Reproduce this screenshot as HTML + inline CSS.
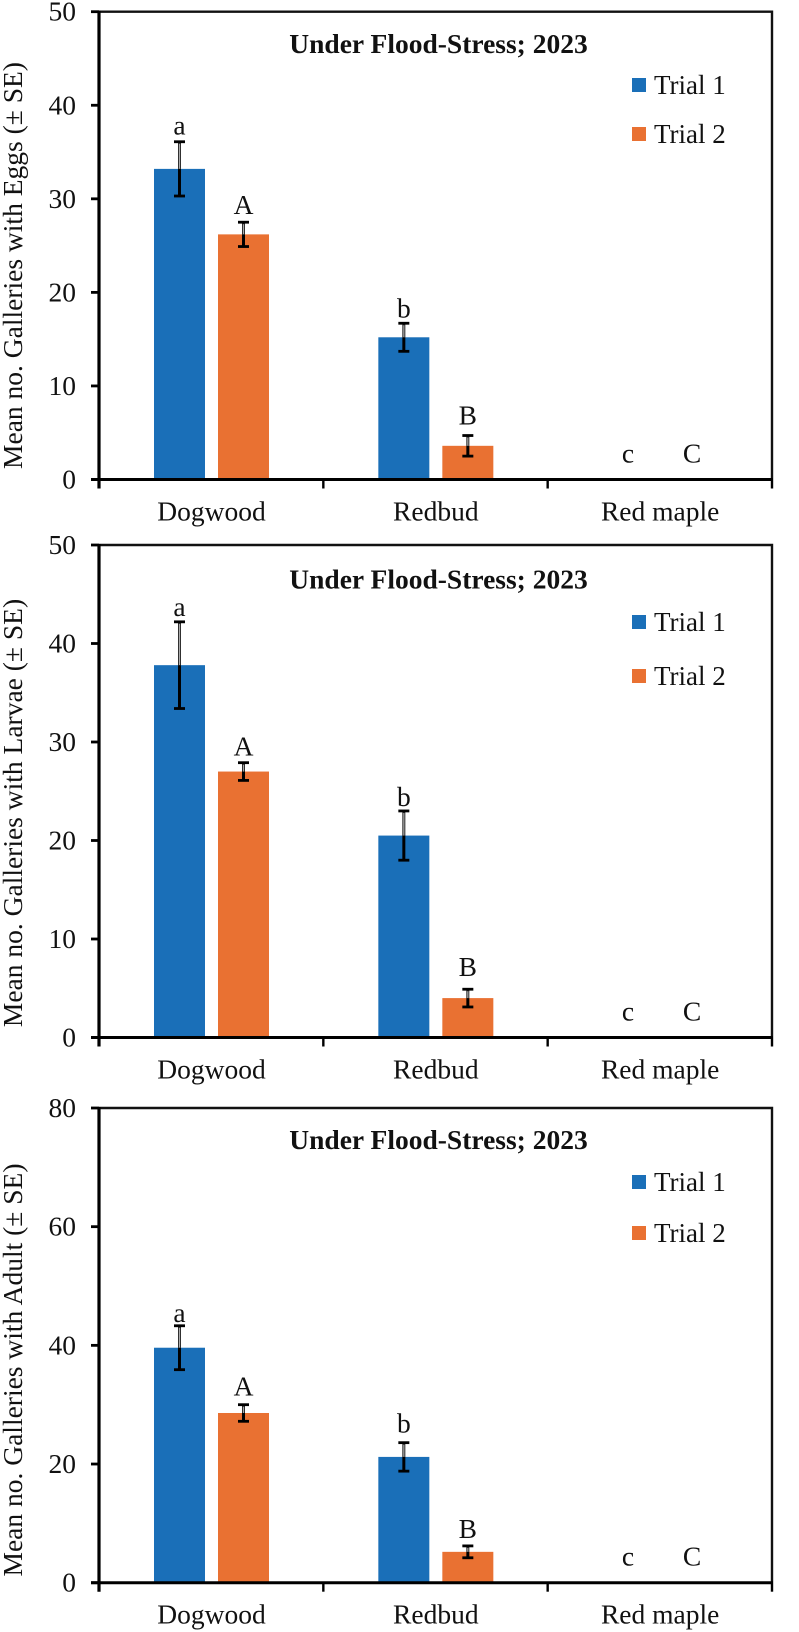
<!DOCTYPE html>
<html lang="en">
<head>
<meta charset="utf-8">
<title>Mean number of galleries under flood stress, 2023</title>
<style>
html,body{margin:0;padding:0;background:#fff;}
svg{display:block;}
text{font-family:"Liberation Serif",serif;fill:#111;}
</style>
</head>
<body>
<svg id="figure" xmlns="http://www.w3.org/2000/svg" width="799" height="1632" viewBox="0 0 799 1632"></svg>
<script>
const categories = ['Dogwood', 'Redbud', 'Red maple'];
const seriesNames = ['Trial 1', 'Trial 2'];
const eggsTrial1 = [33.2, 15.2, 0];
const eggsTrial2 = [26.2, 3.6, 0];
const eggsErrTrial1 = [2.9, 1.5, 0];
const eggsErrTrial2 = [1.3, 1.1, 0];
const larvaeTrial1 = [37.8, 20.5, 0];
const larvaeTrial2 = [27.0, 4.0, 0];
const larvaeErrTrial1 = [4.4, 2.5, 0];
const larvaeErrTrial2 = [0.9, 0.9, 0];
const adultTrial1 = [39.6, 21.2, 0];
const adultTrial2 = [28.6, 5.2, 0];
const adultErrTrial1 = [3.7, 2.4, 0];
const adultErrTrial2 = [1.4, 1.0, 0];
const lettersTrial1 = ['a', 'b', 'c'];
const lettersTrial2 = ['A', 'B', 'C'];
const ticksEggs = [0, 10, 20, 30, 40, 50];
const ticksLarvae = [0, 10, 20, 30, 40, 50];
const ticksAdult = [0, 20, 40, 60, 80];
const chartTitle = 'Under Flood-Stress; 2023';
const yTitles = ['Mean no. Galleries with Eggs (\u00B1 SE)', 'Mean no. Galleries with Larvae (\u00B1 SE)', 'Mean no. Galleries with Adult (\u00B1 SE)'];

const panels = [
  {key:'eggs', top:11.7, base:479.5, legend:[85,134], titleY:53, yTitleC:265.5, gaps:[[7,6,17],[8,11,17]], t1:eggsTrial1, t2:eggsTrial2, e1:eggsErrTrial1, e2:eggsErrTrial2, ticks:ticksEggs, yTitle:yTitles[0]},
  {key:'larvae', top:545, base:1037.5, legend:[622,676], titleY:588.5, yTitleC:813, gaps:[[6,5,17],[7,13,17]], t1:larvaeTrial1, t2:larvaeTrial2, e1:larvaeErrTrial1, e2:larvaeErrTrial2, ticks:ticksLarvae, yTitle:yTitles[1]},
  {key:'adult', top:1108, base:1582.7, legend:[1182,1233], titleY:1149, yTitleC:1370, gaps:[[4,10,17],[9,8,17]], t1:adultTrial1, t2:adultTrial2, e1:adultErrTrial1, e2:adultErrTrial2, ticks:ticksAdult, yTitle:yTitles[2]}
];

const svg = document.getElementById('figure');
const NS = 'http://www.w3.org/2000/svg';
const LEFT = 99, RIGHT = 772, BAR_W = 51, BLUE = '#1a6fb8', ORANGE = '#e97132', FONT = 27.5;
const catW = (RIGHT - LEFT) / categories.length;

function mk(tag, attrs, parent, text) {
  const el = document.createElementNS(NS, tag);
  for (const k in attrs) el.setAttribute(k, attrs[k]);
  if (text !== undefined) el.textContent = text;
  parent.appendChild(el);
  return el;
}
function xBar(catIndex, seriesIndex) {
  return LEFT + catW * catIndex + (seriesIndex === 0 ? 55 : 119);
}

panels.forEach(function (p) {
  const yMax = p.ticks[p.ticks.length - 1];
  const y = function (v) { return p.base - (v / yMax) * (p.base - p.top); };

  const g = mk('g', {}, svg);
  
  

  const frame = mk('path', {d:'M' + LEFT + ' ' + p.top + 'H' + RIGHT + 'V' + p.base, fill:'none', stroke:'#111', 'stroke-width':2.4}, g);
  
  

  [p.t1, p.t2].forEach(function (vals, s) {
    const errs = s === 0 ? p.e1 : p.e2;
    const letters = s === 0 ? lettersTrial1 : lettersTrial2;
    vals.forEach(function (v, c) {
      const x = xBar(c, s);
      const cx = x + BAR_W / 2;
      if (v > 0) {
        const bar = mk('rect', {x:x, y:y(v), width:BAR_W, height:p.base - y(v), fill:s === 0 ? BLUE : ORANGE}, g);
        
        

        const up = mk('line', {x1:cx, x2:cx, y1:y(v + errs[c]), y2:y(v), stroke:'#222', 'stroke-width':3}, g);
        
        

        const upInner = mk('line', {x1:cx, x2:cx, y1:y(v + errs[c]) + 2, y2:y(v), stroke:'#aaa', 'stroke-width':1.2}, g);
        
        

        const down = mk('line', {x1:cx, x2:cx, y1:y(v), y2:y(v - errs[c]), stroke:'#000', 'stroke-width':3}, g);
        
        

        const capTop = mk('line', {x1:cx - 5.5, x2:cx + 5.5, y1:y(v + errs[c]), y2:y(v + errs[c]), stroke:'#000', 'stroke-width':2.8}, g);
        
        

        const capBot = mk('line', {x1:cx - 5.5, x2:cx + 5.5, y1:y(v - errs[c]), y2:y(v - errs[c]), stroke:'#000', 'stroke-width':2.8}, g);
        
        
      }
      const letterX = v > 0 ? cx : (s === 0 ? 628 : 692);
      const letterY = v > 0 ? y(v + errs[c]) - p.gaps[s][c] : p.base - p.gaps[s][c];
      const lab = mk('text', {x:letterX, y:letterY, 'text-anchor':'middle', 'font-size':FONT}, g, letters[c]);
      
      
    });
  });

  const yAxis = mk('line', {x1:LEFT, x2:LEFT, y1:p.top - 1, y2:p.base + 9, stroke:'#000', 'stroke-width':3.2}, g);
  
  

  const xAxis = mk('line', {x1:LEFT - 8, x2:RIGHT + 1, y1:p.base, y2:p.base, stroke:'#000', 'stroke-width':3}, g);
  
  

  p.ticks.forEach(function (t) {
    const tk = mk('line', {x1:LEFT - 8, x2:LEFT, y1:y(t), y2:y(t), stroke:'#000', 'stroke-width':2.8}, g);
    
    

    const tl = mk('text', {x:76, y:y(t) + 9, 'text-anchor':'end', 'font-size':FONT}, g, String(t));
    
    
  });

  categories.forEach(function (name, c) {
    const tk = mk('line', {x1:LEFT + catW * (c + 1), x2:LEFT + catW * (c + 1), y1:p.base, y2:p.base + 9, stroke:'#000', 'stroke-width':2.4}, g);
    
    

    const cl = mk('text', {x:LEFT + catW * c + 112.5, y:p.base + 41, 'text-anchor':'middle', 'font-size':FONT}, g, name);
    
    
  });

  const title = mk('text', {x:438.5, y:p.titleY, 'text-anchor':'middle', 'font-size':FONT, 'font-weight':'bold'}, g, chartTitle);
  
  

  const yt = mk('text', {transform:'translate(22 ' + p.yTitleC + ') rotate(-90)', 'text-anchor':'middle', 'font-size':FONT}, g, p.yTitle);
  
  

  seriesNames.forEach(function (name, s) {
    const cy = p.legend[s];
    const sw = mk('rect', {x:632, y:cy - 7, width:14, height:14, fill:s === 0 ? BLUE : ORANGE}, g);
    
    

    const lt = mk('text', {x:654, y:cy + 9, 'font-size':27}, g, name);
    
    
  });
});
</script>
</body>
</html>
